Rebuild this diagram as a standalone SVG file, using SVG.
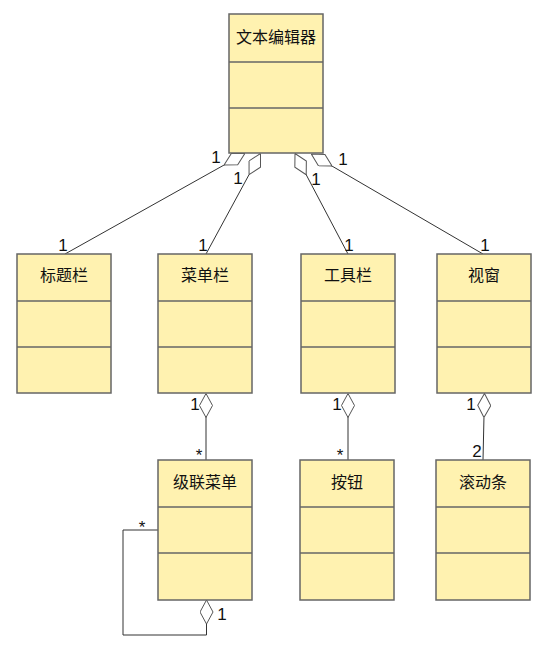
<svg xmlns="http://www.w3.org/2000/svg" width="544" height="650" viewBox="0 0 544 650">
<style>
.box{fill:#fff2b0;stroke:#666;stroke-width:1.5}
.sep{stroke:#666;stroke-width:1.5}
.title{font-family:"Noto Sans CJK SC","Noto Sans",sans-serif;font-size:16px;fill:#111;text-anchor:middle}
.lbl{font-family:"Liberation Sans","DejaVu Sans",sans-serif;font-size:17px;fill:#111;text-anchor:middle}
.con{fill:none;stroke:#333;stroke-width:1}
</style>
<defs>
<marker id="dia" viewBox="0 0 24 14" refX="24" refY="7" markerWidth="24" markerHeight="14" markerUnits="userSpaceOnUse" orient="auto">
<path d="M0,7 L12,0.5 L24,7 L12,13.5 Z" fill="#fff" stroke="#555" stroke-width="1"/>
</marker>
</defs>
<rect width="544" height="650" fill="#fff"/>
<g id="connectors">
<path class="con" d="M65,254 L245,153.3" marker-end="url(#dia)"/>
<path class="con" d="M206,254 L260.5,153.5" marker-end="url(#dia)"/>
<path class="con" d="M348,254 L295,153.5" marker-end="url(#dia)"/>
<path class="con" d="M483,254 L311.3,154" marker-end="url(#dia)"/>
<path class="con" d="M206,460 L206,393.5" marker-end="url(#dia)"/>
<path class="con" d="M348,460 L348,393.5" marker-end="url(#dia)"/>
<path class="con" d="M483,460 L484.5,393.5" marker-end="url(#dia)"/>
<path class="con" d="M158,530 H123 V635 H206.5 V600" marker-end="url(#dia)"/>
<text class="lbl" x="216" y="163">1</text>
<text class="lbl" x="238" y="184">1</text>
<text class="lbl" x="316" y="185">1</text>
<text class="lbl" x="343" y="165">1</text>
<text class="lbl" x="63" y="251">1</text>
<text class="lbl" x="203" y="251">1</text>
<text class="lbl" x="349" y="251">1</text>
<text class="lbl" x="485" y="251">1</text>
<text class="lbl" x="195" y="410">1</text>
<text class="lbl" x="199" y="461">*</text>
<text class="lbl" x="337" y="410">1</text>
<text class="lbl" x="340" y="461">*</text>
<text class="lbl" x="471" y="410">1</text>
<text class="lbl" x="477" y="457">2</text>
<text class="lbl" x="142" y="533">*</text>
<text class="lbl" x="222" y="620">1</text>
</g>
<g id="n_editor">
<rect class="box" x="229" y="14" width="94" height="139"/>
<line class="sep" x1="229" y1="62" x2="323" y2="62"/>
<line class="sep" x1="229" y1="108" x2="323" y2="108"/>
<text class="title" x="276" y="43">文本编辑器</text>
</g>
<g id="n_titlebar">
<rect class="box" x="17" y="254" width="94" height="139"/>
<line class="sep" x1="17" y1="301" x2="111" y2="301"/>
<line class="sep" x1="17" y1="347" x2="111" y2="347"/>
<text class="title" x="64" y="281">标题栏</text>
</g>
<g id="n_menubar">
<rect class="box" x="158" y="254" width="94" height="139"/>
<line class="sep" x1="158" y1="301" x2="252" y2="301"/>
<line class="sep" x1="158" y1="347" x2="252" y2="347"/>
<text class="title" x="205" y="281">菜单栏</text>
</g>
<g id="n_toolbar">
<rect class="box" x="301" y="254" width="94" height="139"/>
<line class="sep" x1="301" y1="301" x2="395" y2="301"/>
<line class="sep" x1="301" y1="347" x2="395" y2="347"/>
<text class="title" x="348" y="281">工具栏</text>
</g>
<g id="n_view">
<rect class="box" x="437" y="254" width="94" height="139"/>
<line class="sep" x1="437" y1="301" x2="531" y2="301"/>
<line class="sep" x1="437" y1="347" x2="531" y2="347"/>
<text class="title" x="484" y="281">视窗</text>
</g>
<g id="n_cascade">
<rect class="box" x="158" y="460" width="94" height="140"/>
<line class="sep" x1="158" y1="507" x2="252" y2="507"/>
<line class="sep" x1="158" y1="553" x2="252" y2="553"/>
<text class="title" x="205" y="488">级联菜单</text>
</g>
<g id="n_button">
<rect class="box" x="300" y="460" width="94" height="140"/>
<line class="sep" x1="300" y1="507" x2="394" y2="507"/>
<line class="sep" x1="300" y1="553" x2="394" y2="553"/>
<text class="title" x="347" y="488">按钮</text>
</g>
<g id="n_scroll">
<rect class="box" x="436" y="460" width="94" height="140"/>
<line class="sep" x1="436" y1="507" x2="530" y2="507"/>
<line class="sep" x1="436" y1="553" x2="530" y2="553"/>
<text class="title" x="483" y="488">滚动条</text>
</g>
</svg>
